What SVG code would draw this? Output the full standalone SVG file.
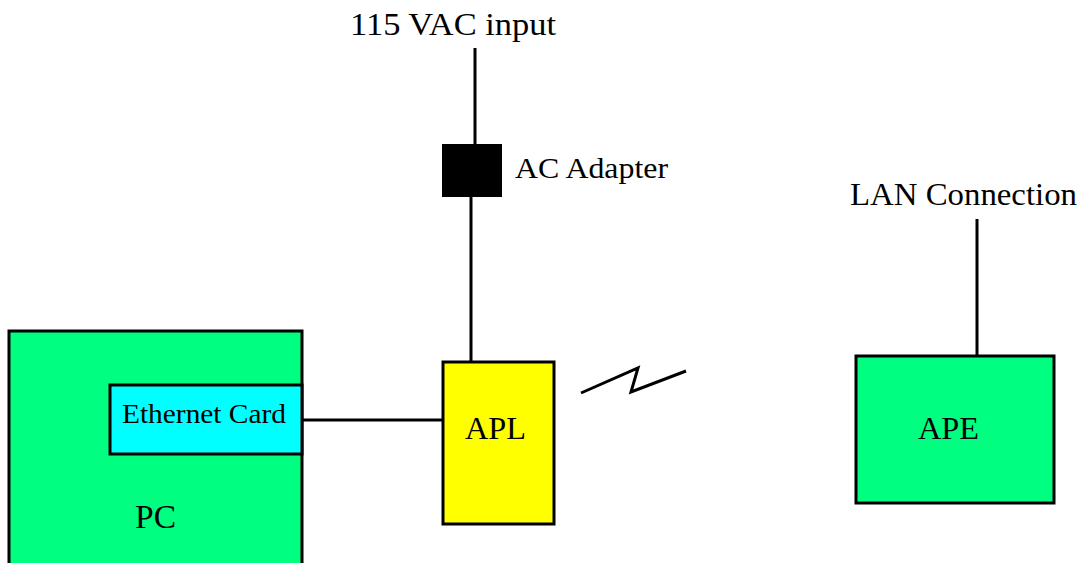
<svg xmlns="http://www.w3.org/2000/svg" width="1085" height="563" viewBox="0 0 1085 563">
<style>
.box{stroke:#000;stroke-width:3}
.ln{stroke:#000;stroke-width:3;fill:none}
text{font-family:"Liberation Serif","Times New Roman",serif;fill:#000}
</style>
<rect width="1085" height="563" fill="#fff"/>
<g id="connectors">
<line class="ln" x1="475" y1="48" x2="475" y2="145"/>
<line class="ln" x1="471" y1="196" x2="471" y2="363"/>
<line class="ln" x1="302" y1="420" x2="444" y2="420"/>
<line class="ln" x1="977" y1="219" x2="977" y2="357"/>
<polyline class="ln" stroke-width="2.5" points="581,393 638,368 631,392 686,371"/>
</g>
<g id="vac-input">
<text x="350" y="35" font-size="31" textLength="206" lengthAdjust="spacingAndGlyphs">115 VAC input</text>
</g>
<g id="ac-adapter">
<rect x="442" y="144" width="60" height="53" fill="#000"/>
<text x="515" y="178" font-size="30" textLength="153" lengthAdjust="spacingAndGlyphs">AC Adapter</text>
</g>
<g id="pc">
<rect class="box" x="9" y="331" width="293" height="245" fill="#00FF80"/>
<text x="135" y="528" font-size="34" textLength="41" lengthAdjust="spacingAndGlyphs">PC</text>
</g>
<g id="ethernet-card">
<rect class="box" x="110" y="385" width="192" height="69" fill="#00FFFF"/>
<text x="122" y="423" font-size="28" textLength="164" lengthAdjust="spacingAndGlyphs">Ethernet Card</text>
</g>
<g id="apl">
<rect class="box" x="443" y="362" width="111" height="162" fill="#FFFF00"/>
<text x="465" y="439" font-size="32" textLength="61" lengthAdjust="spacingAndGlyphs">APL</text>
</g>
<g id="lan-connection">
<text x="850" y="205" font-size="31" textLength="227" lengthAdjust="spacingAndGlyphs">LAN Connection</text>
</g>
<g id="ape">
<rect class="box" x="856" y="356" width="198" height="147" fill="#00FF80"/>
<text x="918" y="439" font-size="32" textLength="61" lengthAdjust="spacingAndGlyphs">APE</text>
</g>
</svg>
